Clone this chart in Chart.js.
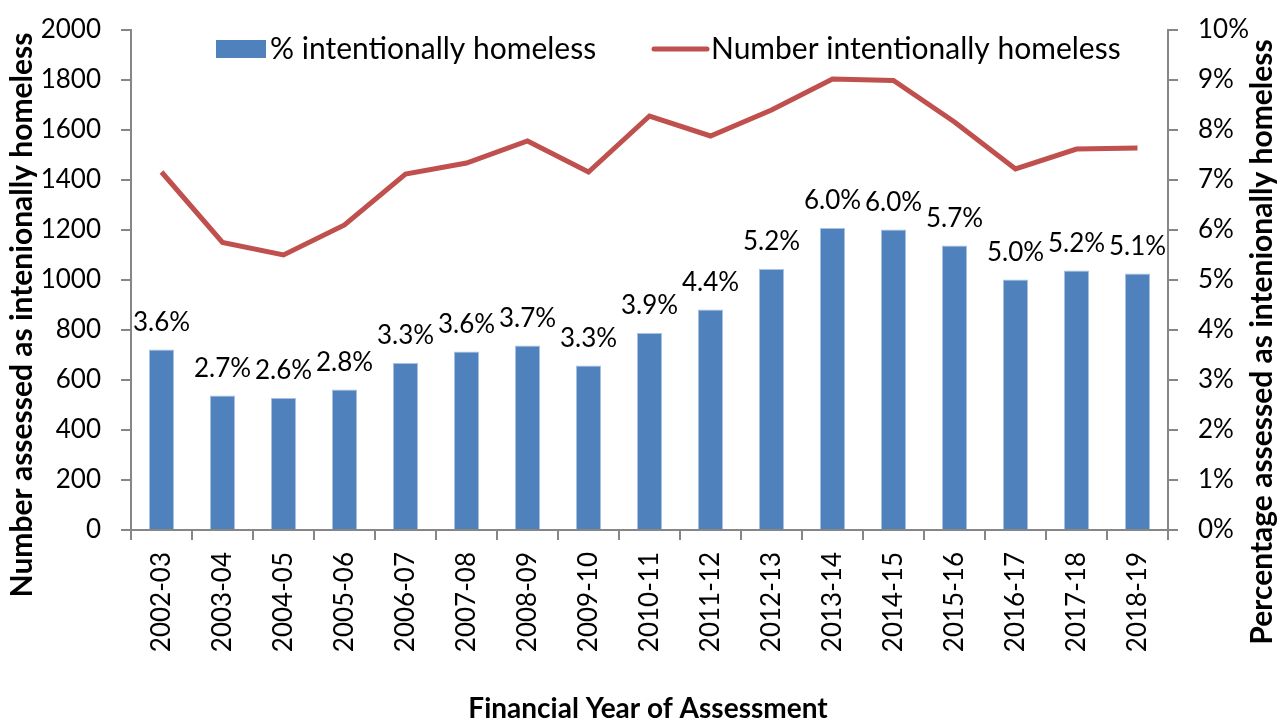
<!DOCTYPE html>
<html>
<head>
<meta charset="utf-8">
<script src="https://cdn.jsdelivr.net/npm/chart.js@4.4.1/dist/chart.umd.min.js"></script>
<style>
  html, body { margin: 0; padding: 0; background: #fff; }
  #wrap { width: 1277px; height: 722px; position: relative; }
</style>
</head>
<body>
<div id="wrap"><canvas id="chart" width="1277" height="722"></canvas></div>
<script>
const categories = ['2002-03', '2003-04', '2004-05', '2005-06', '2006-07', '2007-08', '2008-09', '2009-10',
    '2010-11', '2011-12', '2012-13', '2013-14', '2014-15', '2015-16', '2016-17', '2017-18', '2018-19'];
const pctHomeless = [3.61, 2.69, 2.64, 2.81, 3.34, 3.57, 3.69, 3.29, 3.94, 4.41, 5.22, 6.04, 6.01, 5.69, 5.01, 5.19, 5.13];
const numHomeless = [1432, 1150, 1100, 1220, 1424, 1468, 1556, 1432, 1656, 1576, 1680, 1804, 1798, 1632, 1444, 1524, 1528];
const leftTicks = [0, 200, 400, 600, 800, 1000, 1200, 1400, 1600, 1800, 2000];
const rightTicks = [0, 1, 2, 3, 4, 5, 6, 7, 8, 9, 10];

const FONT = 'Lato, "Open Sans", sans-serif';
const tickFont = { family: FONT, size: 26 };
const axisGray = '#868686';

// legend drawn over the plot like the original
const overlayLegend = {
    id: 'overlayLegend',
    afterDraw(chart) {
        const ctx = chart.ctx;
        const [bars, line] = chart.data.datasets;
        ctx.save();
        ctx.font = '30px ' + FONT;
        ctx.textBaseline = 'middle';
        ctx.fillStyle = bars.backgroundColor;
        ctx.fillRect(216, 40, 50, 18);
        ctx.fillStyle = '#000';
        ctx.fillText(bars.label, 270, 49);
        ctx.strokeStyle = line.borderColor;
        ctx.lineWidth = 5;
        ctx.lineCap = 'round';
        ctx.beginPath();
        ctx.moveTo(654, 49);
        ctx.lineTo(707, 49);
        ctx.stroke();
        ctx.fillText(line.label, 711, 49);
        ctx.restore();
    }
};

// value labels above the bars
const barLabels = {
    id: 'barLabels',
    afterDatasetsDraw(chart) {
        const ctx = chart.ctx;
        const meta = chart.getDatasetMeta(0);
        ctx.save();
        ctx.font = '26px ' + FONT;
        ctx.fillStyle = '#000';
        ctx.textAlign = 'center';
        ctx.textBaseline = 'bottom';
        meta.data.forEach((bar, i) => {
            ctx.fillText(pctHomeless[i].toFixed(1) + '%', bar.x, bar.y - 14);
        });
        ctx.restore();
    }
};

// axis titles placed like the original
const axisTitles = {
    id: 'axisTitles',
    afterDraw(chart) {
        const ctx = chart.ctx;
        ctx.save();
        ctx.fillStyle = '#000';
        ctx.textAlign = 'center';
        ctx.textBaseline = 'middle';
        ctx.font = 'bold 28px ' + FONT;
        ctx.fillText('Financial Year of Assessment', 648, 709);
        ctx.font = 'bold 30px ' + FONT;
        ctx.translate(22, 315);
        ctx.rotate(-Math.PI / 2);
        ctx.fillText('Number assessed as intenionally homeless', 0, 0);
        ctx.restore();
        ctx.save();
        ctx.font = 'bold 30px ' + FONT;
        ctx.fillStyle = '#000';
        ctx.textAlign = 'center';
        ctx.textBaseline = 'middle';
        ctx.translate(1262, 342);
        ctx.rotate(-Math.PI / 2);
        ctx.fillText('Percentage assessed as intenionally homeless', 0, 0);
        ctx.restore();
    }
};

const fitY = (w) => (scale) => {
    scale.width = w;
    scale.paddingTop = 0;
    scale.paddingBottom = 0;
};

new Chart(document.getElementById('chart'), {
    data: {
        labels: categories,
        datasets: [
            {
                type: 'bar',
                label: '% intentionally homeless',
                data: pctHomeless,
                yAxisID: 'yRight',
                backgroundColor: '#4F81BD',
                borderColor: '#A9C1E0',
                borderWidth: 1,
                barPercentage: 0.41,
                categoryPercentage: 1,
                order: 2,
            },
            {
                type: 'line',
                label: 'Number intentionally homeless',
                data: numHomeless,
                yAxisID: 'yLeft',
                borderColor: '#C0504D',
                backgroundColor: '#C0504D',
                borderWidth: 5,
                pointRadius: 0,
                tension: 0,
                order: 1,
            },
        ],
    },
    options: {
        responsive: false,
        animation: false,
        devicePixelRatio: 1,
        layout: { padding: { top: 30, left: 0, right: 0, bottom: 0 } },
        plugins: { legend: { display: false }, tooltip: { enabled: false } },
        scales: {
            x: {
                grid: { drawOnChartArea: false, drawTicks: true, tickLength: 10, color: axisGray, lineWidth: 2, offset: true },
                border: { color: axisGray, width: 2 },
                ticks: { font: tickFont, color: '#000', minRotation: 90, maxRotation: 90, padding: 12, autoSkip: false },
                afterFit: (scale) => { scale.height = 192; },
            },
            yLeft: {
                position: 'left',
                min: 0, max: 2000,
                afterBuildTicks: (scale) => { scale.ticks = leftTicks.map(v => ({ value: v })); },
                grid: { drawOnChartArea: false, drawTicks: true, tickLength: 10, color: axisGray, lineWidth: 2 },
                border: { color: axisGray, width: 2 },
                ticks: { font: tickFont, color: '#000', padding: 20, callback: (v) => String(v) },
                afterFit: fitY(131),
            },
            yRight: {
                position: 'right',
                min: 0, max: 10,
                afterBuildTicks: (scale) => { scale.ticks = rightTicks.map(v => ({ value: v })); },
                grid: { drawOnChartArea: false, drawTicks: true, tickLength: 10, color: axisGray, lineWidth: 2 },
                border: { color: axisGray, width: 2 },
                ticks: { font: tickFont, color: '#000', padding: 20, callback: (v) => v + '%' },
                afterFit: fitY(109),
            },
        },
    },
    plugins: [barLabels, overlayLegend, axisTitles],
});
</script>
</body>
</html>
